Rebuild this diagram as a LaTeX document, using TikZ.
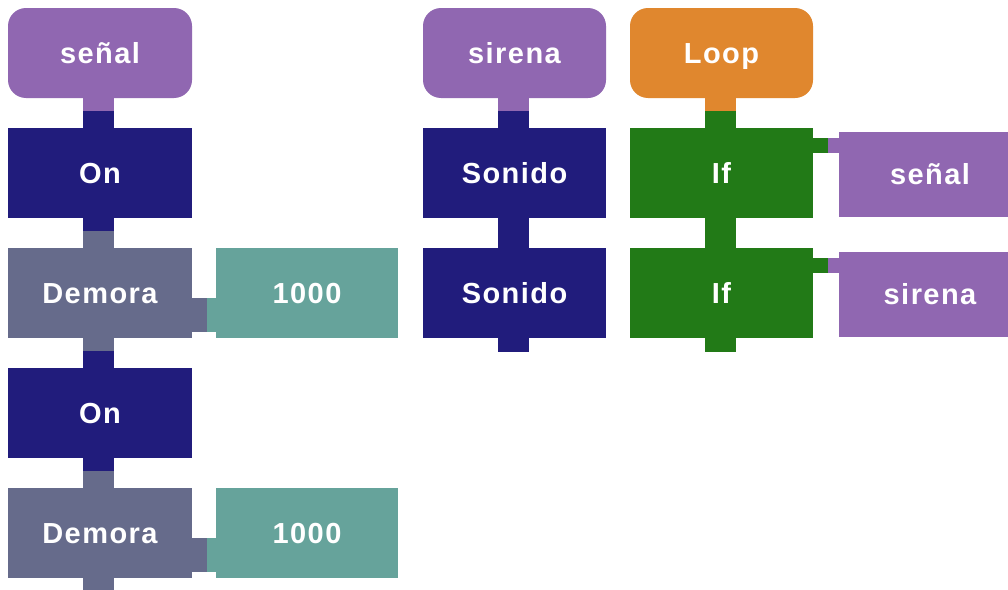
\documentclass[tikz,border=0pt]{standalone}
\usepackage{fontspec}
\setmainfont{Liberation Sans}
\newfontfamily\blkfont[LetterSpace=5]{Liberation Sans}
\usetikzlibrary{calc}
\definecolor{bpurple}{HTML}{9067B1}
\definecolor{bnavy}{HTML}{211C7C}
\definecolor{bslate}{HTML}{666B8B}
\definecolor{bteal}{HTML}{66A39B}
\definecolor{borange}{HTML}{E0872E}
\definecolor{bgreen}{HTML}{227A17}
\tikzset{
  blk/.style={fill=#1, text=white, inner sep=0pt, minimum width=184pt, minimum height=90pt,
    text height=20.8pt, text depth=0pt,
    font=\blkfont\fontsize{29}{32}\selectfont\bfseries},
  hat/.style={blk=#1, rounded corners=18pt},
  val/.style={blk=#1, minimum width=182pt},
}
\newcommand{\vtab}[4]{% parent, child, parent colour, child colour
  \fill[#3] ($(#1.south west)+(75,-0.5)$) rectangle ($(#1.south west)+(106,13)$);
  \fill[#4] ($(#1.south west)+(75,13)$) rectangle ($(#2.north west)+(106,0.5)$);}
\newcommand{\btab}[2]{%
  \fill[#2] ($(#1.south west)+(75,-0.5)$) rectangle ($(#1.south west)+(106,14)$);}
\begin{document}
\begin{tikzpicture}[x=1pt,y=-1pt]
\useasboundingbox (0,0) rectangle (1008,589);
\fill[white] (0,0) rectangle (1008,589);
\clip (0,0) rectangle (1008,589);
% left stack
\node[hat=bpurple] (senal) at (100,53) {señal};
\node[blk=bnavy] (on1) at (100,173) {On};
\node[blk=bslate] (dem1) at (100,293) {Demora};
\node[blk=bnavy] (on2) at (100,413) {On};
\node[blk=bslate] (dem2) at (100,533) {Demora};
\node[val=bteal] (va) at (307,293) {1000};
\node[val=bteal] (vb) at (307,533) {1000};
% middle stack
\node[hat=bpurple, minimum width=183pt] (sirena) at (514.5,53) {sirena};
\node[blk=bnavy, minimum width=183pt] (son1) at (514.5,173) {Sonido};
\node[blk=bnavy, minimum width=183pt] (son2) at (514.5,293) {Sonido};
% right stack
\node[hat=borange, minimum width=183pt] (loop) at (721.5,53) {Loop};
\node[blk=bgreen, minimum width=183pt] (if1) at (721.5,173) {If};
\node[blk=bgreen, minimum width=183pt] (if2) at (721.5,293) {If};
\node[val=bpurple, minimum height=85pt] (c1) at (930,174.5) {señal};
\node[val=bpurple, minimum height=85pt] (c2) at (930,294.5) {sirena};
% vertical connectors
\vtab{senal}{on1}{bpurple}{bnavy}
\vtab{on1}{dem1}{bnavy}{bslate}
\vtab{dem1}{on2}{bslate}{bnavy}
\vtab{on2}{dem2}{bnavy}{bslate}
\btab{dem2}{bslate}
\vtab{sirena}{son1}{bpurple}{bnavy}
\vtab{son1}{son2}{bnavy}{bnavy}
\btab{son2}{bnavy}
\vtab{loop}{if1}{borange}{bgreen}
\vtab{if1}{if2}{bgreen}{bgreen}
\btab{if2}{bgreen}
% horizontal connectors
\fill[bslate] ($(dem1.south east)+(-0.5,-40)$) rectangle ($(dem1.south east)+(15,-6)$);
\fill[bteal] ($(va.south west)+(-9,-40)$) rectangle ($(va.south west)+(0.5,-6)$);
\fill[bslate] ($(dem2.south east)+(-0.5,-40)$) rectangle ($(dem2.south east)+(15,-6)$);
\fill[bteal] ($(vb.south west)+(-9,-40)$) rectangle ($(vb.south west)+(0.5,-6)$);
\fill[bgreen] ($(if1.north east)+(-0.5,10)$) rectangle ($(if1.north east)+(15,25)$);
\fill[bpurple] ($(if1.north east)+(15,10)$) rectangle ($(c1.west |- if1.north east)+(0.5,25)$);
\fill[bgreen] ($(if2.north east)+(-0.5,10)$) rectangle ($(if2.north east)+(15,25)$);
\fill[bpurple] ($(if2.north east)+(15,10)$) rectangle ($(c2.west |- if2.north east)+(0.5,25)$);
\end{tikzpicture}
\end{document}
